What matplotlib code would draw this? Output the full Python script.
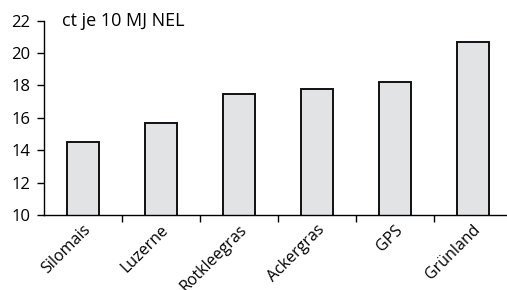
import matplotlib.pyplot as plt
import numpy as np

# Kosten je Futterart
kategorien = ['Silomais', 'Luzerne', 'Rotkleegras', 'Ackergras', 'GPS', 'Grünland']
werte = [14.5, 15.66, 17.45, 17.8, 18.2, 20.67]
y_ticks = [10, 12, 14, 16, 18, 20, 22]

plt.rcParams['font.family'] = ['Open Sans', 'DejaVu Sans']

fig = plt.figure(figsize=(5.07, 2.90), dpi=100)
ax = fig.add_axes([44 / 507, 1 - 215 / 290, 1 - 44 / 507, (215 - 20.7) / 290])

x = np.arange(len(kategorien))
ax.bar(x, werte, width=0.41, bottom=0, color='#e2e3e5', edgecolor='#111111', linewidth=1.4, zorder=2)

ax.set_ylim(10, 22)
ax.set_xlim(-0.5, 5.44)
ax.set_yticks(y_ticks)
ax.set_yticklabels([str(v) for v in y_ticks], fontsize=12)

# Striche zwischen den Kategorien, Beschriftung mittig
ax.set_xticks(x[:-1] + 0.5)
ax.set_xticks(x, minor=True)
ax.set_xticklabels([])
ax.set_xticklabels(kategorien, minor=True, rotation=45, ha='right',
                   rotation_mode='anchor', fontsize=11.5)
ax.tick_params(axis='x', which='major', length=5, width=1, direction='out')
ax.tick_params(axis='x', which='minor', length=0, pad=5)
ax.tick_params(axis='y', length=5, width=1, direction='out', pad=5)

for s in ['top', 'right']:
    ax.spines[s].set_visible(False)
ax.spines['left'].set_linewidth(1)
ax.spines['bottom'].set_linewidth(1)

ax.text(-0.27, 22, 'ct je 10 MJ NEL', fontsize=13, va='center', ha='left')

fig.savefig('out.png', dpi=100)
